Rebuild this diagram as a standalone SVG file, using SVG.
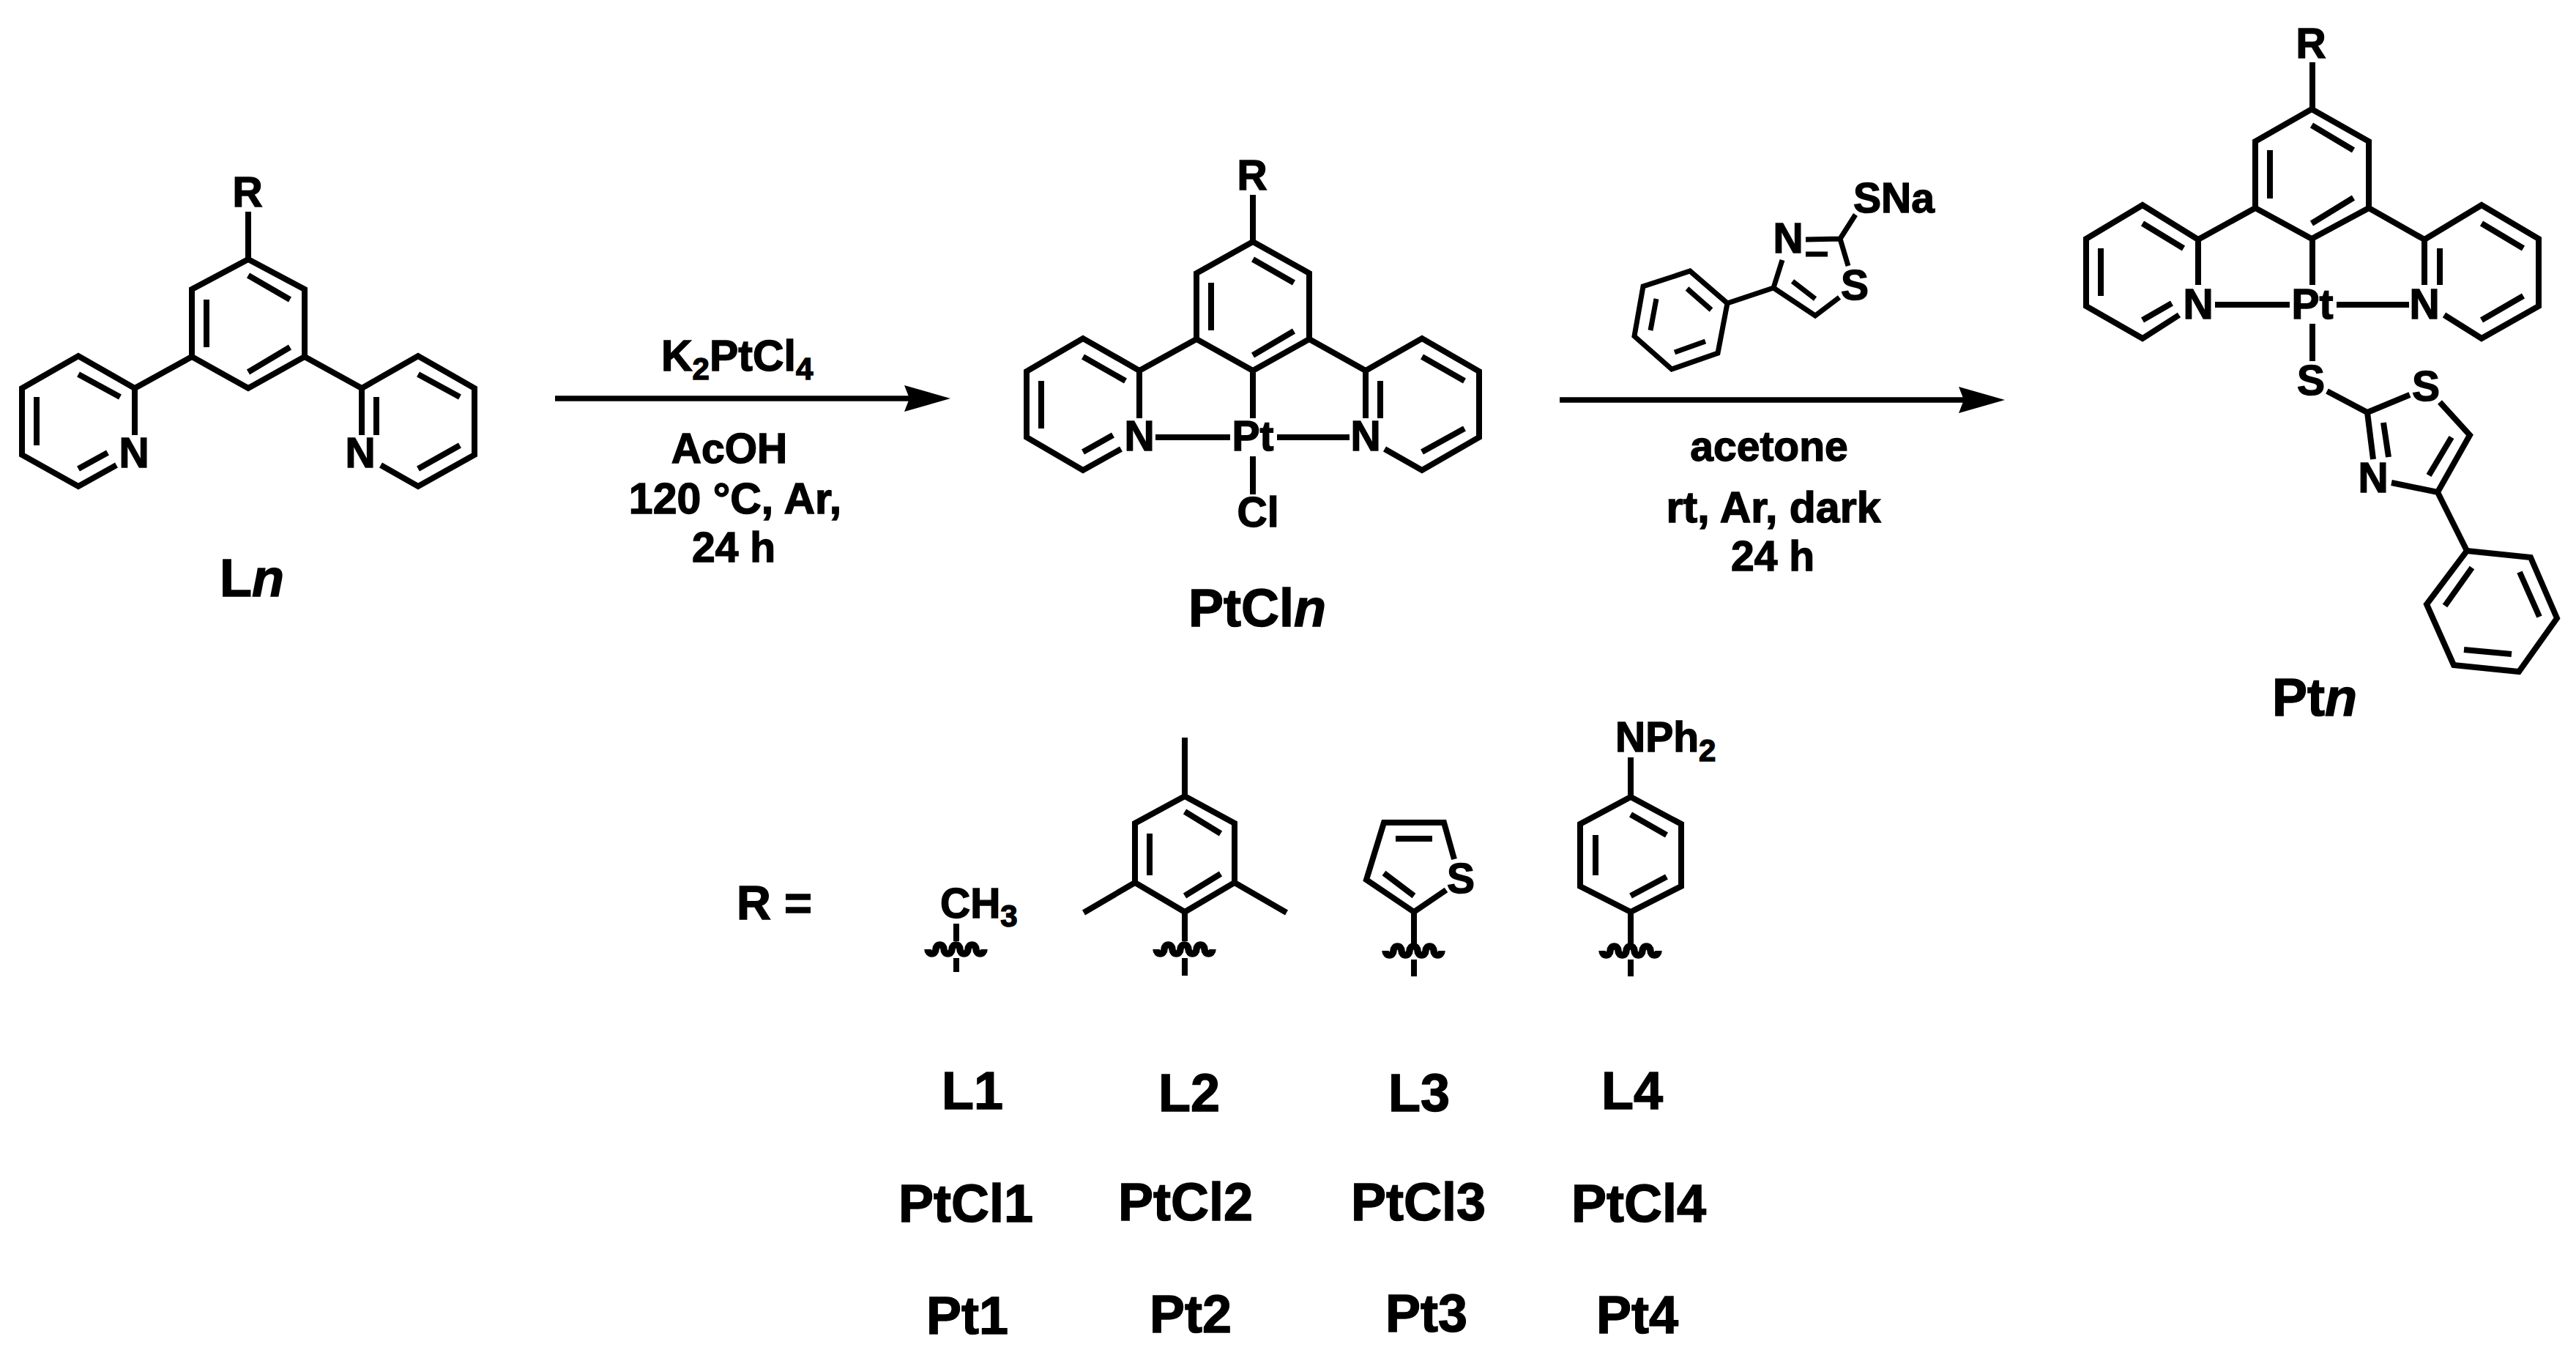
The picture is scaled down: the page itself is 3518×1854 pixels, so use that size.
<svg xmlns="http://www.w3.org/2000/svg" xmlns:xlink="http://www.w3.org/1999/xlink" width="3518" height="1854" viewBox="0 0 3518 1854">
<style>
text{font-family:"Liberation Sans",Arial,sans-serif;font-weight:700;fill:#000;font-size:57px;stroke:#000;stroke-width:1.4px}
.m{text-anchor:middle}
.big{font-size:72px}
.lab{font-size:72px}
.i{font-style:italic}
.w{font-size:59px}
.b{fill:none;stroke:#000;stroke-width:8;stroke-linejoin:miter;stroke-linecap:butt}
.t{stroke-width:7}
.a{fill:none;stroke:#000;stroke-width:7.5}
</style>
<defs>
<marker id="head" markerUnits="userSpaceOnUse" markerWidth="64" markerHeight="38" viewBox="0 0 64 38" refX="7" refY="19" orient="auto"><path d="M0 1L63 19L0 37L7 19Z" fill="#000"/></marker>
<path id="wave" class="b" style="stroke-width:9.5" d="M-39 0a5.5 6 0 0 0 11 0a5.5 6 0 0 1 11 0a5.5 6 0 0 0 11 0a5.5 6 0 0 1 11 0a5.5 6 0 0 0 11 0a5.5 6 0 0 1 11 0a5.5 6 0 0 0 11 0"/>
</defs>
<rect width="3518" height="1854" fill="#fff"/>
<g id="connectors">
<path class="a" d="M758 544H1242" marker-end="url(#head)"/>
<path class="a" d="M2130 546H2682" marker-end="url(#head)"/>
</g>
<g id="Ln">
<path class="b" d="M339 354L416 395V487L339 530L262 487V395ZM339 289V354M262 487L184 530M416 487L494 530M339 376L396 409M282 409V474M339 508L396 474"/>
<path class="b" d="M184 594V530L107 486L30 530V621L107 664L159 635M164 542L107 511M50 542V608M107 640L147 618"/>
<path class="b" d="M494 594V530L571 486L648 530V621L571 664L520 635M514 542V594M571 511L628 542M571 640L628 608"/>
<text class="m" x="338" y="282">R</text><text class="m" x="183" y="638">N</text><text class="m" x="492" y="638">N</text>
<text class="big" x="300" y="814">L<tspan class="i">n</tspan></text>
</g>
<g id="reagent1">
<text x="903" y="506" style="font-size:59px">K<tspan dy="12" style="font-size:42px">2</tspan><tspan dy="-12">PtCl</tspan><tspan dy="12" style="font-size:42px">4</tspan></text>
<text class="m" x="996" y="632">AcOH</text>
<text class="m w" x="1004" y="701">120 °C, Ar,</text>
<text class="m" x="1002" y="767">24 h</text>
</g>
<g id="PtCln">
<path class="b" d="M1711 330L1788 373V463L1711 506L1634 463V373ZM1711 266V330M1634 463L1556 506M1788 463L1865 506M1711 354L1767 386M1654 386V451M1711 485L1767 452"/>
<path class="b" d="M1556 571V506L1479 462L1402 507V597L1479 642L1531 613M1479 487L1537 520M1422 520V585M1479 617L1520 594"/>
<path class="b" d="M1865 571V506L1942 462L2020 507V597L1942 642L1891 613M1885 520V571M1942 487L2000 520M1942 617L2000 585"/>
<path class="b" d="M1578 597H1680M1744 597H1843M1711 506V571M1711 623V675"/>
<text class="m" x="1710" y="259">R</text><text class="m" x="1556" y="615">N</text><text class="m" x="1865" y="615">N</text><text class="m" x="1711" y="615">Pt</text><text class="m" x="1718" y="719">Cl</text>
<text class="big" x="1623" y="855">PtCl<tspan class="i">n</tspan></text>
</g>
<g id="reagent2">
<path class="b t" d="M2513 326L2534 293M2513 326L2524 363M2513 326L2466 327M2496 347H2466M2512 406L2479 431L2422 393L2434 355M2479 408L2448 384M2422 393L2359 414"/>
<path class="b t" d="M2359 414L2308 370L2244 391L2232 459L2283 504L2346 482ZM2304 394L2337 423M2262 408L2254 451M2287 481L2329 466"/>
<text class="m" x="2442" y="345">N</text><text class="m" x="2533" y="409">S</text><text x="2531" y="290">SNa</text>
<text class="m" x="2416" y="629">acetone</text>
<text class="m w" x="2422" y="713">rt, Ar, dark</text>
<text class="m" x="2421" y="779">24 h</text>
</g>
<g id="Ptn">
<path class="b" d="M3157 149L3235 193V284L3157 326L3080 284V193ZM3158 85V149M3080 284L3002 327M3235 284L3311 327M3157 171L3214 205M3100 205V271M3157 305L3214 270"/>
<path class="b" d="M3002 389V327L2926 280L2849 326V418L2926 462L2976 430M2926 305L2982 339M2869 339V404M2926 437L2966 414"/>
<path class="b" d="M3311 389V327L3389 280L3467 326V418L3389 462L3338 430M3332 339V389M3389 305L3446 339M3389 437L3446 404"/>
<path class="b" d="M3025 416H3127M3191 416H3290M3158 326V389M3158 442V493"/>
<path class="b" d="M3178 534L3233 563L3291 539M3332 549L3373 594L3329 672L3266 659M3233 563L3241 627M3348 597L3317 649M3255 577L3262 624M3329 672L3369 752"/>
<path class="b" d="M3369 752L3456 761L3492 844L3440 917L3351 908L3314 825ZM3376 775L3339 827M3441 781L3468 842M3365 887L3430 893"/>
<text class="m" x="3156" y="79">R</text><text class="m" x="3002" y="435">N</text><text class="m" x="3311" y="435">N</text><text class="m" x="3158" y="435">Pt</text><text class="m" x="3156" y="539">S</text><text class="m" x="3313" y="547">S</text><text class="m" x="3241" y="672">N</text>
<text class="big" x="3103" y="977">Pt<tspan class="i">n</tspan></text>
</g>
<g id="R-label"><text x="1006" y="1255" style="font-size:65px">R =</text></g>
<g id="R1">
<path class="b" d="M1306 1261V1285M1306 1308V1327"/><use xlink:href="#wave" href="#wave" x="1306" y="1296"/>
<text x="1284" y="1253" style="font-size:57px">CH<tspan dy="12" style="font-size:42px">3</tspan></text>
</g>
<g id="R2">
<path class="b" d="M1618 1087L1686 1124V1205L1618 1245L1550 1205V1124ZM1618 1007V1087M1550 1205L1480 1246M1686 1205L1757 1246M1618 1245V1285M1618 1308V1332M1618 1108L1667 1138M1570 1138V1195M1618 1223L1667 1193"/>
<use xlink:href="#wave" href="#wave" x="1618" y="1296"/>
</g>
<g id="R3">
<path class="b" d="M1975 1215L1931 1245L1866 1201L1890 1123H1972L1986 1173M1906 1145H1956M1890 1192L1931 1223M1931 1245V1288M1931 1310V1333"/>
<use xlink:href="#wave" href="#wave" x="1931" y="1298"/>
<text class="m" x="1995" y="1219">S</text>
</g>
<g id="R4">
<path class="b" d="M2227 1088L2296 1125V1210L2227 1245L2158 1210V1125ZM2227 1034V1088M2227 1112L2276 1140M2179 1140V1195M2227 1223L2276 1197M2227 1245V1288M2227 1310V1333"/>
<use xlink:href="#wave" href="#wave" x="2227" y="1298"/>
<text x="2206" y="1026" style="font-size:57px">NPh<tspan dy="13" style="font-size:42px">2</tspan></text>
</g>
<g id="labels">
<text class="lab" x="1286" y="1514">L1</text><text class="lab" x="1582" y="1517">L2</text><text class="lab" x="1896" y="1517">L3</text><text class="lab" x="2187" y="1514">L4</text>
<text class="lab" x="1227" y="1668">PtCl1</text><text class="lab" x="1527" y="1666">PtCl2</text><text class="lab" x="1845" y="1666">PtCl3</text><text class="lab" x="2146" y="1668">PtCl4</text>
<text class="lab" x="1265" y="1821">Pt1</text><text class="lab" x="1570" y="1819">Pt2</text><text class="lab" x="1892" y="1818">Pt3</text><text class="lab" x="2180" y="1820">Pt4</text>
</g>
</svg>
